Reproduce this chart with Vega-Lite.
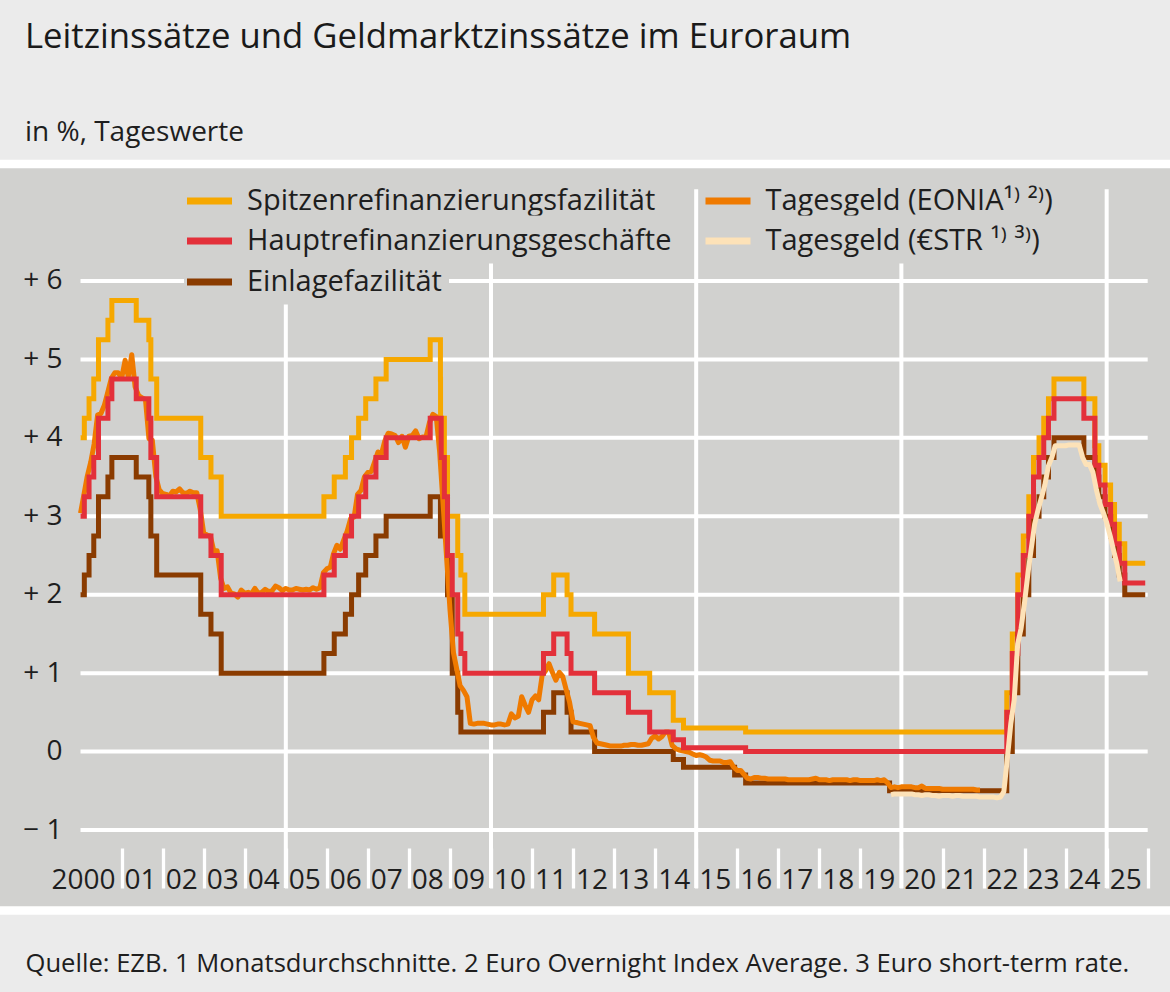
{
  "$schema": "https://vega.github.io/schema/vega-lite/v6.json",
  "width": 1180,
  "height": 746.5,
  "autosize": {"type": "none"},
  "padding": {"left": -5, "right": -5, "top": 164, "bottom": 81.5},
  "background": "#ebebeb",
  "config": {
    "view": {"fill": "#d1d1cf", "stroke": "white", "strokeWidth": 8.5},
    "font": "Open Sans",
    "legend": {
      "orient": "none",
      "fillColor": "#d1d1cf",
      "padding": 7,
      "symbolType": "M-1.5,0H1.5",
      "symbolStrokeWidth": 7,
      "symbolSize": 900,
      "labelFont": "Open Sans, DejaVu Sans",
      "labelFontSize": 29,
      "labelColor": "#1e1e1e",
      "labelOffset": 19,
      "labelLimit": 0
    }
  },
  "title": {
    "text": "Leitzinssätze und Geldmarktzinssätze im Euroraum",
    "subtitle": "in %, Tageswerte",
    "anchor": "start",
    "frame": "group",
    "orient": "top",
    "dx": 30,
    "offset": 16,
    "font": "Open Sans",
    "fontSize": 34.7,
    "fontWeight": 500,
    "color": "#1a1a1a",
    "subtitleFont": "Open Sans",
    "subtitleFontSize": 28,
    "subtitleFontWeight": 400,
    "subtitleColor": "#1e1e1e",
    "subtitlePadding": 63
  },
  "datasets": {
    "hgrid": [{"v": -1}, {"v": 0}, {"v": 1}, {"v": 2}, {"v": 3}, {"v": 4}, {"v": 5}, {"v": 6}],
    "vgrid": [{"d": "2005-01-01"}, {"d": "2010-01-01"}, {"d": "2015-01-01"}, {"d": "2020-01-01"}, {"d": "2025-01-01"}],
    "mlf": [
      {"d":"2000-01-01","v":4.00},{"d":"2000-02-04","v":4.25},{"d":"2000-03-17","v":4.50},{"d":"2000-04-28","v":4.75},{"d":"2000-06-09","v":5.25},{"d":"2000-09-01","v":5.50},{"d":"2000-10-06","v":5.75},{"d":"2001-05-11","v":5.50},{"d":"2001-08-31","v":5.25},{"d":"2001-09-18","v":4.75},{"d":"2001-11-09","v":4.25},{"d":"2002-12-06","v":3.75},{"d":"2003-03-07","v":3.50},{"d":"2003-06-06","v":3.00},{"d":"2005-12-06","v":3.25},{"d":"2006-03-08","v":3.50},{"d":"2006-06-15","v":3.75},{"d":"2006-08-09","v":4.00},{"d":"2006-10-11","v":4.25},{"d":"2006-12-13","v":4.50},{"d":"2007-03-14","v":4.75},{"d":"2007-06-13","v":5.00},{"d":"2008-07-09","v":5.25},{"d":"2008-10-08","v":4.75},{"d":"2008-10-09","v":4.25},{"d":"2008-11-12","v":3.75},{"d":"2008-12-10","v":3.00},{"d":"2009-03-11","v":2.50},{"d":"2009-04-08","v":2.25},{"d":"2009-05-13","v":1.75},{"d":"2011-04-13","v":2.00},{"d":"2011-07-13","v":2.25},{"d":"2011-11-09","v":2.00},{"d":"2011-12-14","v":1.75},{"d":"2012-07-11","v":1.50},{"d":"2013-05-08","v":1.00},{"d":"2013-11-13","v":0.75},{"d":"2014-06-11","v":0.40},{"d":"2014-09-10","v":0.30},{"d":"2016-03-16","v":0.25},{"d":"2022-07-27","v":0.75},{"d":"2022-09-14","v":1.50},{"d":"2022-11-02","v":2.25},{"d":"2022-12-21","v":2.75},{"d":"2023-02-08","v":3.25},{"d":"2023-03-22","v":3.75},{"d":"2023-05-10","v":4.00},{"d":"2023-06-21","v":4.25},{"d":"2023-08-02","v":4.50},{"d":"2023-09-20","v":4.75},{"d":"2024-06-12","v":4.50},{"d":"2024-09-18","v":3.90},{"d":"2024-10-23","v":3.65},{"d":"2024-12-18","v":3.40},{"d":"2025-02-05","v":3.15},{"d":"2025-03-12","v":2.90},{"d":"2025-04-23","v":2.65},{"d":"2025-06-11","v":2.40},{"d":"2025-12-10","v":2.40}
    ],
    "mro": [
      {"d":"2000-01-01","v":3.00},{"d":"2000-02-04","v":3.25},{"d":"2000-03-17","v":3.50},{"d":"2000-04-28","v":3.75},{"d":"2000-06-09","v":4.25},{"d":"2000-09-01","v":4.50},{"d":"2000-10-06","v":4.75},{"d":"2001-05-11","v":4.50},{"d":"2001-08-31","v":4.25},{"d":"2001-09-18","v":3.75},{"d":"2001-11-09","v":3.25},{"d":"2002-12-06","v":2.75},{"d":"2003-03-07","v":2.50},{"d":"2003-06-06","v":2.00},{"d":"2005-12-06","v":2.25},{"d":"2006-03-08","v":2.50},{"d":"2006-06-15","v":2.75},{"d":"2006-08-09","v":3.00},{"d":"2006-10-11","v":3.25},{"d":"2006-12-13","v":3.50},{"d":"2007-03-14","v":3.75},{"d":"2007-06-13","v":4.00},{"d":"2008-07-09","v":4.25},{"d":"2008-10-15","v":3.75},{"d":"2008-11-12","v":3.25},{"d":"2008-12-10","v":2.50},{"d":"2009-01-21","v":2.00},{"d":"2009-03-11","v":1.50},{"d":"2009-04-08","v":1.25},{"d":"2009-05-13","v":1.00},{"d":"2011-04-13","v":1.25},{"d":"2011-07-13","v":1.50},{"d":"2011-11-09","v":1.25},{"d":"2011-12-14","v":1.00},{"d":"2012-07-11","v":0.75},{"d":"2013-05-08","v":0.50},{"d":"2013-11-13","v":0.25},{"d":"2014-06-11","v":0.15},{"d":"2014-09-10","v":0.05},{"d":"2016-03-16","v":0.00},{"d":"2022-07-27","v":0.50},{"d":"2022-09-14","v":1.25},{"d":"2022-11-02","v":2.00},{"d":"2022-12-21","v":2.50},{"d":"2023-02-08","v":3.00},{"d":"2023-03-22","v":3.50},{"d":"2023-05-10","v":3.75},{"d":"2023-06-21","v":4.00},{"d":"2023-08-02","v":4.25},{"d":"2023-09-20","v":4.50},{"d":"2024-06-12","v":4.25},{"d":"2024-09-18","v":3.65},{"d":"2024-10-23","v":3.40},{"d":"2024-12-18","v":3.15},{"d":"2025-02-05","v":2.90},{"d":"2025-03-12","v":2.65},{"d":"2025-04-23","v":2.40},{"d":"2025-06-11","v":2.15},{"d":"2025-12-10","v":2.15}
    ],
    "df": [
      {"d":"2000-01-01","v":2.00},{"d":"2000-02-04","v":2.25},{"d":"2000-03-17","v":2.50},{"d":"2000-04-28","v":2.75},{"d":"2000-06-09","v":3.25},{"d":"2000-09-01","v":3.50},{"d":"2000-10-06","v":3.75},{"d":"2001-05-11","v":3.50},{"d":"2001-08-31","v":3.25},{"d":"2001-09-18","v":2.75},{"d":"2001-11-09","v":2.25},{"d":"2002-12-06","v":1.75},{"d":"2003-03-07","v":1.50},{"d":"2003-06-06","v":1.00},{"d":"2005-12-06","v":1.25},{"d":"2006-03-08","v":1.50},{"d":"2006-06-15","v":1.75},{"d":"2006-08-09","v":2.00},{"d":"2006-10-11","v":2.25},{"d":"2006-12-13","v":2.50},{"d":"2007-03-14","v":2.75},{"d":"2007-06-13","v":3.00},{"d":"2008-07-09","v":3.25},{"d":"2008-10-08","v":2.75},{"d":"2008-10-09","v":3.25},{"d":"2008-11-12","v":2.75},{"d":"2008-12-10","v":2.00},{"d":"2009-01-21","v":1.00},{"d":"2009-03-11","v":0.50},{"d":"2009-04-08","v":0.25},{"d":"2011-04-13","v":0.50},{"d":"2011-07-13","v":0.75},{"d":"2011-11-09","v":0.50},{"d":"2011-12-14","v":0.25},{"d":"2012-07-11","v":0.00},{"d":"2014-06-11","v":-0.10},{"d":"2014-09-10","v":-0.20},{"d":"2015-12-09","v":-0.30},{"d":"2016-03-16","v":-0.40},{"d":"2019-09-18","v":-0.50},{"d":"2022-07-27","v":0.00},{"d":"2022-09-14","v":0.75},{"d":"2022-11-02","v":1.50},{"d":"2022-12-21","v":2.00},{"d":"2023-02-08","v":2.50},{"d":"2023-03-22","v":3.00},{"d":"2023-05-10","v":3.25},{"d":"2023-06-21","v":3.50},{"d":"2023-08-02","v":3.75},{"d":"2023-09-20","v":4.00},{"d":"2024-06-12","v":3.75},{"d":"2024-09-18","v":3.50},{"d":"2024-10-23","v":3.25},{"d":"2024-12-18","v":3.00},{"d":"2025-02-05","v":2.75},{"d":"2025-03-12","v":2.50},{"d":"2025-04-23","v":2.25},{"d":"2025-06-11","v":2.00},{"d":"2025-12-10","v":2.00}
    ],
    "eonia": [
      {"d":"2000-01-01","v":3.04},{"d":"2000-02-01","v":3.28},{"d":"2000-03-01","v":3.51},{"d":"2000-04-01","v":3.69},{"d":"2000-05-01","v":3.92},{"d":"2000-06-01","v":4.29},{"d":"2000-07-01","v":4.31},{"d":"2000-08-01","v":4.42},{"d":"2000-09-01","v":4.59},{"d":"2000-10-01","v":4.76},{"d":"2000-11-01","v":4.83},{"d":"2000-12-01","v":4.83},
      {"d":"2001-01-01","v":4.76},{"d":"2001-02-01","v":4.99},{"d":"2001-03-01","v":4.78},{"d":"2001-04-01","v":5.06},{"d":"2001-05-01","v":4.65},{"d":"2001-06-01","v":4.54},{"d":"2001-07-01","v":4.51},{"d":"2001-08-01","v":4.49},{"d":"2001-09-01","v":3.99},{"d":"2001-10-01","v":3.97},{"d":"2001-11-01","v":3.51},{"d":"2001-12-01","v":3.34},
      {"d":"2002-01-01","v":3.29},{"d":"2002-02-01","v":3.28},{"d":"2002-03-01","v":3.26},{"d":"2002-04-01","v":3.32},{"d":"2002-05-01","v":3.31},{"d":"2002-06-01","v":3.35},{"d":"2002-07-01","v":3.30},{"d":"2002-08-01","v":3.29},{"d":"2002-09-01","v":3.32},{"d":"2002-10-01","v":3.30},{"d":"2002-11-01","v":3.30},{"d":"2002-12-01","v":3.09},
      {"d":"2003-01-01","v":2.79},{"d":"2003-02-01","v":2.76},{"d":"2003-03-01","v":2.75},{"d":"2003-04-01","v":2.56},{"d":"2003-05-01","v":2.56},{"d":"2003-06-01","v":2.21},{"d":"2003-07-01","v":2.08},{"d":"2003-08-01","v":2.10},{"d":"2003-09-01","v":2.02},{"d":"2003-10-01","v":2.01},{"d":"2003-11-01","v":1.97},{"d":"2003-12-01","v":2.06},
      {"d":"2004-01-01","v":2.02},{"d":"2004-02-01","v":2.03},{"d":"2004-03-01","v":2.01},{"d":"2004-04-01","v":2.08},{"d":"2004-05-01","v":2.02},{"d":"2004-06-01","v":2.03},{"d":"2004-07-01","v":2.07},{"d":"2004-08-01","v":2.04},{"d":"2004-09-01","v":2.05},{"d":"2004-10-01","v":2.11},{"d":"2004-11-01","v":2.09},{"d":"2004-12-01","v":2.05},
      {"d":"2005-01-01","v":2.08},{"d":"2005-02-01","v":2.06},{"d":"2005-03-01","v":2.06},{"d":"2005-04-01","v":2.08},{"d":"2005-05-01","v":2.07},{"d":"2005-06-01","v":2.06},{"d":"2005-07-01","v":2.07},{"d":"2005-08-01","v":2.06},{"d":"2005-09-01","v":2.09},{"d":"2005-10-01","v":2.07},{"d":"2005-11-01","v":2.09},{"d":"2005-12-01","v":2.28},
      {"d":"2006-01-01","v":2.33},{"d":"2006-02-01","v":2.35},{"d":"2006-03-01","v":2.52},{"d":"2006-04-01","v":2.63},{"d":"2006-05-01","v":2.58},{"d":"2006-06-01","v":2.70},{"d":"2006-07-01","v":2.81},{"d":"2006-08-01","v":2.97},{"d":"2006-09-01","v":2.99},{"d":"2006-10-01","v":3.28},{"d":"2006-11-01","v":3.33},{"d":"2006-12-01","v":3.50},
      {"d":"2007-01-01","v":3.56},{"d":"2007-02-01","v":3.57},{"d":"2007-03-01","v":3.69},{"d":"2007-04-01","v":3.82},{"d":"2007-05-01","v":3.79},{"d":"2007-06-01","v":3.96},{"d":"2007-07-01","v":4.06},{"d":"2007-08-01","v":4.05},{"d":"2007-09-01","v":4.03},{"d":"2007-10-01","v":3.94},{"d":"2007-11-01","v":4.02},{"d":"2007-12-01","v":3.88},
      {"d":"2008-01-01","v":4.02},{"d":"2008-02-01","v":4.03},{"d":"2008-03-01","v":4.09},{"d":"2008-04-01","v":3.99},{"d":"2008-05-01","v":4.01},{"d":"2008-06-01","v":4.01},{"d":"2008-07-01","v":4.19},{"d":"2008-08-01","v":4.30},{"d":"2008-09-01","v":4.27},{"d":"2008-10-01","v":3.82},{"d":"2008-11-01","v":3.15},{"d":"2008-12-01","v":2.49},
      {"d":"2009-01-01","v":1.81},{"d":"2009-02-01","v":1.26},{"d":"2009-03-01","v":1.06},{"d":"2009-04-01","v":0.84},{"d":"2009-05-01","v":0.78},{"d":"2009-06-01","v":0.70},{"d":"2009-07-01","v":0.36},{"d":"2009-08-01","v":0.35},{"d":"2009-09-01","v":0.36},{"d":"2009-10-01","v":0.36},{"d":"2009-11-01","v":0.36},{"d":"2009-12-01","v":0.35},
      {"d":"2010-01-01","v":0.34},{"d":"2010-02-01","v":0.34},{"d":"2010-03-01","v":0.35},{"d":"2010-04-01","v":0.35},{"d":"2010-05-01","v":0.34},{"d":"2010-06-01","v":0.35},{"d":"2010-07-01","v":0.48},{"d":"2010-08-01","v":0.43},{"d":"2010-09-01","v":0.45},{"d":"2010-10-01","v":0.70},{"d":"2010-11-01","v":0.59},{"d":"2010-12-01","v":0.50},
      {"d":"2011-01-01","v":0.66},{"d":"2011-02-01","v":0.71},{"d":"2011-03-01","v":0.66},{"d":"2011-04-01","v":0.97},{"d":"2011-05-01","v":1.03},{"d":"2011-06-01","v":1.12},{"d":"2011-07-01","v":1.01},{"d":"2011-08-01","v":0.91},{"d":"2011-09-01","v":1.01},{"d":"2011-10-01","v":0.96},{"d":"2011-11-01","v":0.79},{"d":"2011-12-01","v":0.63},
      {"d":"2012-01-01","v":0.38},{"d":"2012-02-01","v":0.37},{"d":"2012-03-01","v":0.36},{"d":"2012-04-01","v":0.35},{"d":"2012-05-01","v":0.34},{"d":"2012-06-01","v":0.33},{"d":"2012-07-01","v":0.18},{"d":"2012-08-01","v":0.11},{"d":"2012-09-01","v":0.10},{"d":"2012-10-01","v":0.09},{"d":"2012-11-01","v":0.08},{"d":"2012-12-01","v":0.07},
      {"d":"2013-01-01","v":0.07},{"d":"2013-02-01","v":0.07},{"d":"2013-03-01","v":0.07},{"d":"2013-04-01","v":0.08},{"d":"2013-05-01","v":0.08},{"d":"2013-06-01","v":0.09},{"d":"2013-07-01","v":0.09},{"d":"2013-08-01","v":0.08},{"d":"2013-09-01","v":0.08},{"d":"2013-10-01","v":0.09},{"d":"2013-11-01","v":0.10},{"d":"2013-12-01","v":0.17},
      {"d":"2014-01-01","v":0.20},{"d":"2014-02-01","v":0.16},{"d":"2014-03-01","v":0.19},{"d":"2014-04-01","v":0.25},{"d":"2014-05-01","v":0.25},{"d":"2014-06-01","v":0.08},{"d":"2014-07-01","v":0.04},{"d":"2014-08-01","v":0.02},{"d":"2014-09-01","v":0.01},{"d":"2014-10-01","v":0.00},{"d":"2014-11-01","v":-0.01},{"d":"2014-12-01","v":-0.03},
      {"d":"2015-01-01","v":-0.05},{"d":"2015-02-01","v":-0.04},{"d":"2015-03-01","v":-0.05},{"d":"2015-04-01","v":-0.07},{"d":"2015-05-01","v":-0.11},{"d":"2015-06-01","v":-0.12},{"d":"2015-07-01","v":-0.12},{"d":"2015-08-01","v":-0.12},{"d":"2015-09-01","v":-0.14},{"d":"2015-10-01","v":-0.14},{"d":"2015-11-01","v":-0.13},{"d":"2015-12-01","v":-0.20},
      {"d":"2016-01-01","v":-0.24},{"d":"2016-02-01","v":-0.24},{"d":"2016-03-01","v":-0.29},{"d":"2016-04-01","v":-0.34},{"d":"2016-05-01","v":-0.35},{"d":"2016-06-01","v":-0.33},{"d":"2016-07-01","v":-0.33},{"d":"2016-08-01","v":-0.34},{"d":"2016-09-01","v":-0.34},{"d":"2016-10-01","v":-0.35},{"d":"2016-11-01","v":-0.35},{"d":"2016-12-01","v":-0.35},
      {"d":"2017-01-01","v":-0.35},{"d":"2017-02-01","v":-0.35},{"d":"2017-03-01","v":-0.35},{"d":"2017-04-01","v":-0.36},{"d":"2017-05-01","v":-0.36},{"d":"2017-06-01","v":-0.36},{"d":"2017-07-01","v":-0.36},{"d":"2017-08-01","v":-0.36},{"d":"2017-09-01","v":-0.36},{"d":"2017-10-01","v":-0.36},{"d":"2017-11-01","v":-0.35},{"d":"2017-12-01","v":-0.34},
      {"d":"2018-01-01","v":-0.36},{"d":"2018-02-01","v":-0.36},{"d":"2018-03-01","v":-0.36},{"d":"2018-04-01","v":-0.37},{"d":"2018-05-01","v":-0.36},{"d":"2018-06-01","v":-0.36},{"d":"2018-07-01","v":-0.36},{"d":"2018-08-01","v":-0.36},{"d":"2018-09-01","v":-0.36},{"d":"2018-10-01","v":-0.37},{"d":"2018-11-01","v":-0.36},{"d":"2018-12-01","v":-0.36},
      {"d":"2019-01-01","v":-0.37},{"d":"2019-02-01","v":-0.37},{"d":"2019-03-01","v":-0.37},{"d":"2019-04-01","v":-0.37},{"d":"2019-05-01","v":-0.37},{"d":"2019-06-01","v":-0.36},{"d":"2019-07-01","v":-0.37},{"d":"2019-08-01","v":-0.36},{"d":"2019-09-01","v":-0.40},{"d":"2019-10-01","v":-0.46},{"d":"2019-11-01","v":-0.45},{"d":"2019-12-01","v":-0.46},
      {"d":"2020-01-01","v":-0.45},{"d":"2020-02-01","v":-0.45},{"d":"2020-03-01","v":-0.45},{"d":"2020-04-01","v":-0.45},{"d":"2020-05-01","v":-0.46},{"d":"2020-06-01","v":-0.46},{"d":"2020-07-01","v":-0.44},{"d":"2020-08-01","v":-0.47},{"d":"2020-09-01","v":-0.47},{"d":"2020-10-01","v":-0.47},{"d":"2020-11-01","v":-0.47},{"d":"2020-12-01","v":-0.47},
      {"d":"2021-01-01","v":-0.48},{"d":"2021-02-01","v":-0.48},{"d":"2021-03-01","v":-0.48},{"d":"2021-04-01","v":-0.48},{"d":"2021-05-01","v":-0.48},{"d":"2021-06-01","v":-0.48},{"d":"2021-07-01","v":-0.48},{"d":"2021-08-01","v":-0.48},{"d":"2021-09-01","v":-0.48},{"d":"2021-10-01","v":-0.48},{"d":"2021-11-01","v":-0.49},{"d":"2021-12-01","v":-0.49}
    ],
    "estr": [
      {"d":"2019-10-01","v":-0.55},{"d":"2019-11-01","v":-0.54},{"d":"2019-12-01","v":-0.54},
      {"d":"2020-01-01","v":-0.54},{"d":"2020-02-01","v":-0.54},{"d":"2020-03-01","v":-0.54},{"d":"2020-04-01","v":-0.54},{"d":"2020-05-01","v":-0.55},{"d":"2020-06-01","v":-0.55},{"d":"2020-07-01","v":-0.56},{"d":"2020-08-01","v":-0.55},{"d":"2020-09-01","v":-0.55},{"d":"2020-10-01","v":-0.56},{"d":"2020-11-01","v":-0.56},{"d":"2020-12-01","v":-0.57},
      {"d":"2021-01-01","v":-0.56},{"d":"2021-02-01","v":-0.56},{"d":"2021-03-01","v":-0.56},{"d":"2021-04-01","v":-0.57},{"d":"2021-05-01","v":-0.56},{"d":"2021-06-01","v":-0.56},{"d":"2021-07-01","v":-0.57},{"d":"2021-08-01","v":-0.57},{"d":"2021-09-01","v":-0.57},{"d":"2021-10-01","v":-0.57},{"d":"2021-11-01","v":-0.57},{"d":"2021-12-01","v":-0.58},
      {"d":"2022-01-01","v":-0.58},{"d":"2022-02-01","v":-0.58},{"d":"2022-03-01","v":-0.58},{"d":"2022-04-01","v":-0.58},{"d":"2022-05-01","v":-0.59},{"d":"2022-06-01","v":-0.58},{"d":"2022-07-01","v":-0.51},{"d":"2022-08-01","v":-0.09},{"d":"2022-09-01","v":0.36},{"d":"2022-10-01","v":0.66},{"d":"2022-11-01","v":1.37},{"d":"2022-12-01","v":1.57},
      {"d":"2023-01-01","v":1.90},{"d":"2023-02-01","v":2.28},{"d":"2023-03-01","v":2.58},{"d":"2023-04-01","v":2.90},{"d":"2023-05-01","v":3.08},{"d":"2023-06-01","v":3.24},{"d":"2023-07-01","v":3.40},{"d":"2023-08-01","v":3.64},{"d":"2023-09-01","v":3.75},{"d":"2023-10-01","v":3.90},{"d":"2023-11-01","v":3.90},{"d":"2023-12-01","v":3.90},
      {"d":"2024-01-01","v":3.90},{"d":"2024-02-01","v":3.91},{"d":"2024-03-01","v":3.91},{"d":"2024-04-01","v":3.91},{"d":"2024-05-01","v":3.91},{"d":"2024-06-01","v":3.75},{"d":"2024-07-01","v":3.66},{"d":"2024-08-01","v":3.66},{"d":"2024-09-01","v":3.56},{"d":"2024-10-01","v":3.34},{"d":"2024-11-01","v":3.16},{"d":"2024-12-01","v":3.05},
      {"d":"2025-01-01","v":2.92},{"d":"2025-02-01","v":2.75},{"d":"2025-03-01","v":2.58},{"d":"2025-04-01","v":2.40},{"d":"2025-05-01","v":2.17}
    ]
  },
  "layer": [
    {
      "data": {"name": "hgrid"},
      "mark": {"type": "rule", "color": "white", "strokeWidth": 4},
      "encoding": {
        "x": {"datum": {"year": 2000, "month": 1, "date": 1, "utc": true}, "type": "temporal", "scale": {"type": "utc", "domain": [{"year": 1997, "month": 12, "date": 1, "utc": true}, {"year": 2026, "month": 9, "date": 1, "utc": true}]}},
        "x2": {"datum": {"year": 2026, "month": 1, "date": 1, "utc": true}},
        "y": {"field": "v", "type": "quantitative", "scale": {"domain": [-2.0264, 7.4918], "nice": false, "zero": false}}
      }
    },
    {
      "data": {"name": "vgrid"},
      "mark": {"type": "rule", "color": "white", "strokeWidth": 4},
      "encoding": {
        "x": {"field": "d", "type": "temporal", "scale": {"type": "utc", "domain": [{"year": 1997, "month": 12, "date": 1, "utc": true}, {"year": 2026, "month": 9, "date": 1, "utc": true}]}},
        "y": {"datum": 7.17, "type": "quantitative", "scale": {"domain": [-2.0264, 7.4918], "nice": false, "zero": false}},
        "y2": {"datum": -1.74}
      }
    },
    {
      "data": {"name": "mlf"},
      "mark": {"type": "line", "interpolate": "step-after", "strokeWidth": 5, "strokeJoin": "miter", "strokeCap": "butt"},
      "encoding": {
        "x": {
          "field": "d",
          "type": "temporal",
          "scale": {"type": "utc", "domain": [{"year": 1997, "month": 12, "date": 1, "utc": true}, {"year": 2026, "month": 9, "date": 1, "utc": true}]},
          "axis": {
            "values": [
              {"year": 2000, "utc": true}, {"year": 2001, "utc": true}, {"year": 2002, "utc": true}, {"year": 2003, "utc": true}, {"year": 2004, "utc": true},
              {"year": 2005, "utc": true}, {"year": 2006, "utc": true}, {"year": 2007, "utc": true}, {"year": 2008, "utc": true}, {"year": 2009, "utc": true},
              {"year": 2010, "utc": true}, {"year": 2011, "utc": true}, {"year": 2012, "utc": true}, {"year": 2013, "utc": true}, {"year": 2014, "utc": true},
              {"year": 2015, "utc": true}, {"year": 2016, "utc": true}, {"year": 2017, "utc": true}, {"year": 2018, "utc": true}, {"year": 2019, "utc": true},
              {"year": 2020, "utc": true}, {"year": 2021, "utc": true}, {"year": 2022, "utc": true}, {"year": 2023, "utc": true}, {"year": 2024, "utc": true},
              {"year": 2025, "utc": true}, {"year": 2026, "utc": true}
            ],
            "offset": -62.5,
            "domain": false,
            "grid": false,
            "ticks": true,
            "tickColor": "white",
            "tickWidth": 3.3,
            "tickSize": 40,
            "tickOpacity": {"condition": {"test": "utcyear(datum.value) == 2000", "value": 0}, "value": 1},
            "labelExpr": "utcyear(datum.value) == 2000 ? '2000' : (utcyear(datum.value) == 2026 ? '' : utcFormat(datum.value, '%y'))",
            "labelAlign": "right",
            "labelBaseline": "alphabetic",
            "labelOffset": 34.5,
            "labelPadding": 0,
            "labelFont": "Open Sans",
            "labelFontSize": 28,
            "labelColor": "#1e1e1e",
            "labelOverlap": false,
            "labelFlush": false,
            "labelBound": false,
            "title": "Quelle: EZB. 1 Monatsdurchschnitte. 2 Euro Overnight Index Average. 3 Euro short-term rate.",
            "titleX": 30,
            "titleY": 123,
            "titleAlign": "left",
            "titleAnchor": "start",
            "titleBaseline": "alphabetic",
            "titleFont": "Open Sans",
            "titleFontSize": 25.6,
            "titleFontWeight": "normal",
            "titleColor": "#1e1e1e"
          }
        },
        "y": {
          "field": "v",
          "type": "quantitative",
          "scale": {"domain": [-2.0264, 7.4918], "nice": false, "zero": false},
          "axis": {
            "values": [-1, 0, 1, 2, 3, 4, 5, 6],
            "offset": -67,
            "domain": false,
            "grid": false,
            "ticks": false,
            "tickSize": 0,
            "labelPadding": 0,
            "labelAlign": "right",
            "labelBaseline": "middle",
            "labelExpr": "datum.value > 0 ? '+ ' + datum.value : (datum.value < 0 ? '− ' + abs(datum.value) : '0')",
            "labelFont": "Open Sans",
            "labelFontSize": 28,
            "labelColor": "#1e1e1e",
            "labelFlush": false,
            "labelOverlap": false,
            "title": null
          }
        },
        "color": {"datum": "Spitzenrefinanzierungsfazilität", "type": "nominal", "scale": {"range": ["#f6a800"]}, "legend": {"title": null, "legendX": 189, "legendY": 11.5}}
      }
    },
    {
      "data": {"name": "df"},
      "mark": {"type": "line", "interpolate": "step-after", "strokeWidth": 5, "strokeJoin": "miter", "strokeCap": "butt"},
      "encoding": {
        "x": {"field": "d", "type": "temporal", "scale": {"type": "utc", "domain": [{"year": 1997, "month": 12, "date": 1, "utc": true}, {"year": 2026, "month": 9, "date": 1, "utc": true}]}},
        "y": {"field": "v", "type": "quantitative", "scale": {"domain": [-2.0264, 7.4918], "nice": false, "zero": false}},
        "color": {"datum": "Einlagefazilität", "type": "nominal", "scale": {"range": ["#8a3b00"]}, "legend": {"title": null, "legendX": 189, "legendY": 92.5}}
      }
    },
    {
      "data": {"name": "eonia"},
      "mark": {"type": "line", "strokeWidth": 5, "strokeJoin": "round", "strokeCap": "butt"},
      "encoding": {
        "x": {"field": "d", "type": "temporal", "scale": {"type": "utc", "domain": [{"year": 1997, "month": 12, "date": 1, "utc": true}, {"year": 2026, "month": 9, "date": 1, "utc": true}]}},
        "y": {"field": "v", "type": "quantitative", "scale": {"domain": [-2.0264, 7.4918], "nice": false, "zero": false}},
        "color": {"datum": "Tagesgeld (EONIA¹⁾ ²⁾)", "type": "nominal", "scale": {"range": ["#ef7a00"]}, "legend": {"title": null, "legendX": 707.5, "legendY": 11.5}}
      }
    },
    {
      "data": {"name": "mro"},
      "mark": {"type": "line", "interpolate": "step-after", "strokeWidth": 5, "strokeJoin": "miter", "strokeCap": "butt"},
      "encoding": {
        "x": {"field": "d", "type": "temporal", "scale": {"type": "utc", "domain": [{"year": 1997, "month": 12, "date": 1, "utc": true}, {"year": 2026, "month": 9, "date": 1, "utc": true}]}},
        "y": {"field": "v", "type": "quantitative", "scale": {"domain": [-2.0264, 7.4918], "nice": false, "zero": false}},
        "color": {"datum": "Hauptrefinanzierungsgeschäfte", "type": "nominal", "scale": {"range": ["#e3303a"]}, "legend": {"title": null, "legendX": 189, "legendY": 51.5}}
      }
    },
    {
      "data": {"name": "estr"},
      "mark": {"type": "line", "strokeWidth": 5, "strokeJoin": "round", "strokeCap": "butt"},
      "encoding": {
        "x": {"field": "d", "type": "temporal", "scale": {"type": "utc", "domain": [{"year": 1997, "month": 12, "date": 1, "utc": true}, {"year": 2026, "month": 9, "date": 1, "utc": true}]}},
        "y": {"field": "v", "type": "quantitative", "scale": {"domain": [-2.0264, 7.4918], "nice": false, "zero": false}},
        "color": {"datum": "Tagesgeld (€STR ¹⁾ ³⁾)", "type": "nominal", "scale": {"range": ["#fde2b8"]}, "legend": {"title": null, "legendX": 707.5, "legendY": 51.5}}
      }
    }
  ],
  "resolve": {"scale": {"color": "independent"}}
}
